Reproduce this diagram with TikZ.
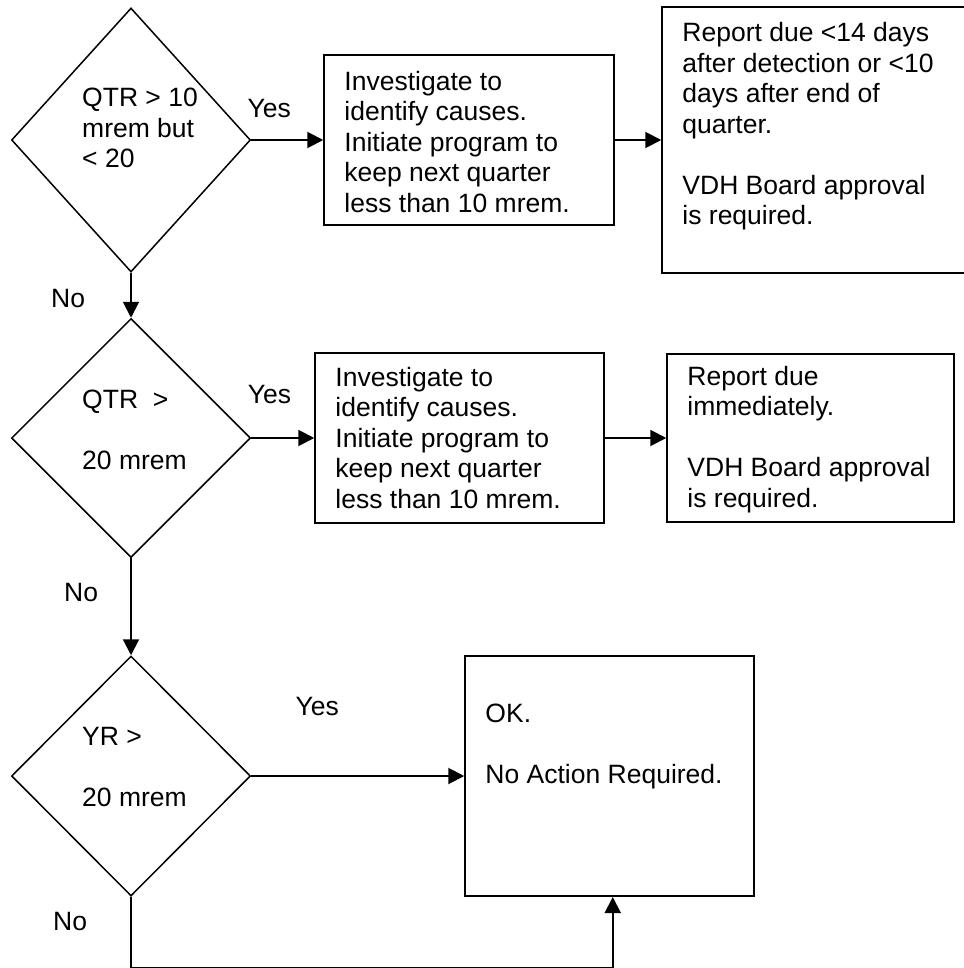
\documentclass[tikz,border=0pt]{standalone}
\usepackage{fontspec}
\setmainfont{Liberation Sans}
\usepackage{tikz}
\usetikzlibrary{arrows.meta,positioning,calc,shapes.geometric}

\begin{document}
\begin{tikzpicture}[x=1pt, y=-1pt,
  decision/.style={draw,shape=diamond,line width=1.5pt,minimum width=239pt,inner sep=0pt},
  stepbox/.style={draw,line width=2pt,inner sep=0pt},
  txt/.style={font=\fontsize{26.5}{30.5}\selectfont,align=left,inner sep=0pt,anchor=north west},
  lbl/.style={font=\fontsize{26.5}{30.5}\selectfont,inner sep=0pt},
  flow/.style={-{Triangle[length=16pt,width=16pt]},line width=2pt}]
  \useasboundingbox (0,0) rectangle (963,968);

  \node[decision,minimum height=264pt] (d1) at (131,140) {};
  \node[decision,minimum height=239pt] (d2) at (131,438) {};
  \node[decision,minimum height=240pt] (d3) at (131,776) {};

  \node[stepbox,right=72pt of d1,minimum width=290pt,minimum height=170pt] (b1) {};
  \node[stepbox,right=46pt of b1,minimum width=320pt,minimum height=265pt] (b2) {};
  \node[stepbox,right=63pt of d2,minimum width=289pt,minimum height=170pt] (b3) {};
  \node[stepbox,right=61pt of b3,minimum width=287pt,minimum height=168pt] (b4) {};
  \node[stepbox,right=213pt of d3,minimum width=289pt,minimum height=240pt] (b5) {};

  \node[txt] (q1) at ($(d1.center)+(-49pt,52pt)$) {QTR > 10\\mrem but\\< 20};
  \node[txt] (q2) at ($(d2.center)+(-49pt,48pt)$) {QTR ~>\\[30.5pt]20 mrem};
  \node[txt] (q3) at ($(d3.center)+(-49pt,49pt)$) {YR >\\[30.5pt]20 mrem};

  \node[txt] (t1) at ($(b1.north west)+(21pt,-17pt)$) {Investigate to\\identify causes.\\Initiate program to\\keep next quarter\\less than 10 mrem.};
  \node[txt] (t2) at ($(b2.north west)+(21pt,-16pt)$) {Report due <14 days\\after detection or <10\\days after end of\\quarter.\\[30.5pt]VDH Board approval\\is required.};
  \node[txt] (t3) at ($(b3.north west)+(21pt,-15pt)$) {Investigate to\\identify causes.\\Initiate program to\\keep next quarter\\less than 10 mrem.};
  \node[txt] (t4) at ($(b4.north west)+(21pt,-13pt)$) {Report due\\immediately.\\[30.5pt]VDH Board approval\\is required.};
  \node[txt] (t5) at ($(b5.north west)+(21pt,-49pt)$) {OK.\\[30.5pt]No Action Required.};

  \draw[flow] (d1.east) -- node[lbl,pos=0.25,above=21pt]{Yes} (b1.west);
  \draw[flow] (b1.east) -- (b2.west);
  \draw[flow] (d1.south) -- node[lbl,pos=0.57,left=45pt]{No} (d2.north);
  \draw[flow] (d2.east) -- node[lbl,pos=0.29,above=33pt]{Yes} (b3.west);
  \draw[flow] (b3.east) -- (b4.west);
  \draw[flow] (d2.south) -- node[lbl,pos=0.35,left=32pt]{No} (d3.north);
  \draw[flow] (d3.east) -- node[lbl,pos=0.31,above=59pt]{Yes} (b5.west);
  \draw[flow] (d3.south) -- node[lbl,pos=0.35,left=43pt]{No} ++(0,71) -| ([xshift=3pt]b5.south);
\end{tikzpicture}
\end{document}
